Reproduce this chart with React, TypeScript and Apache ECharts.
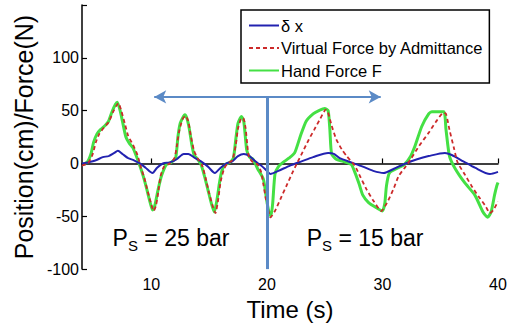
import React, { useEffect, useRef } from "react";
import * as echarts from "echarts";

// Time (s) / value pairs
const deltaX: [number, number][] = [
  [4, 0], [4.5, 1], [5.2, 3], [5.8, 6], [6.3, 7], [6.8, 10], [7.1, 12], [7.5, 9], [8.0, 5], [8.5, 3],
  [9.0, 0], [9.5, -4], [10.1, -9], [10.5, -4], [11.0, 0], [11.6, 1], [12.2, 4], [12.8, 9], [13.2, 9],
  [13.8, 5], [14.3, 2], [14.9, -3], [15.5, -9], [16.0, -4], [16.5, 0], [17.0, 2], [17.5, 7], [18.0, 9],
  [18.5, 7], [19.0, 2], [19.5, -2], [20.0, -7], [20.3, -10], [21, -7], [22, -2], [23, 2], [24, 6],
  [25.3, 10], [25.8, 9], [26.3, 5], [27.3, 1], [28.3, -3], [29.2, -7], [30.1, -9], [31, -5], [32, 0],
  [33, 4], [34, 7], [35.4, 10], [36, 8], [37, 2], [38, -4], [39.3, -10], [40, -8],
];

const virtualForce: [number, number][] = [
  [4, -2], [4.5, 0], [4.9, 8], [5.2, 20], [5.5, 28], [5.9, 34], [6.3, 39], [6.7, 49], [7.0, 55], [7.15, 57],
  [7.4, 50], [7.7, 38], [8.0, 26], [8.4, 18], [8.8, 8], [9.1, -4], [9.4, -14], [9.7, -27], [10.0, -39],
  [10.2, -45], [10.4, -40], [10.6, -27], [10.8, -12], [11.1, -3], [11.6, 0], [12.0, 5], [12.2, 16],
  [12.4, 30], [12.7, 42], [12.95, 45], [13.2, 40], [13.4, 27], [13.7, 12], [14.0, 5], [14.4, -2],
  [14.7, -14], [15.0, -28], [15.3, -40], [15.55, -47], [15.8, -33], [16.0, -17], [16.3, -5], [16.6, 0],
  [17.0, 3], [17.3, 17], [17.5, 33], [17.75, 42], [17.95, 43], [18.15, 34], [18.3, 18], [18.45, 6],
  [18.8, 1], [19.2, -1], [19.5, -8], [19.7, -20], [19.9, -33], [20.1, -43], [20.3, -51],
  [20.7, -45], [21.2, -33], [21.7, -21], [22.2, -9], [22.6, 0], [23.1, 11], [23.6, 22], [24.1, 32],
  [24.6, 42], [25.1, 51], [25.3, 48], [25.6, 36], [26.0, 23], [26.5, 13], [26.9, 7], [27.6, -2],
  [28.1, -13], [28.6, -24], [29.2, -35], [29.9, -45], [30.5, -35], [31.0, -23], [31.4, -12], [32.0, -3],
  [32.5, 5], [33.2, 17], [34.0, 29], [34.6, 39], [35.3, 48], [35.5, 47], [35.8, 32], [36.2, 14],
  [36.5, 1], [37.1, -10], [37.7, -21], [38.3, -31], [38.9, -40], [39.3, -47], [39.6, -44], [40, -36],
];

const handForce: [number, number][] = [
  [4.1, -1], [4.5, 2], [4.8, 10], [5.0, 20], [5.3, 28], [5.6, 32], [6.0, 36], [6.3, 40], [6.6, 49],
  [6.9, 56], [7.05, 58], [7.3, 50], [7.5, 40], [7.8, 25], [8.1, 19], [8.4, 15], [8.7, 7], [9.0, -2],
  [9.3, -12], [9.6, -24], [9.9, -37], [10.1, -44], [10.3, -40], [10.6, -24], [10.9, -11], [11.3, -1],
  [11.7, 1], [12.1, 5], [12.3, 25], [12.5, 38], [12.9, 46], [13.1, 42], [13.3, 32], [13.5, 18],
  [13.7, 8], [14.0, 4], [14.3, -1], [14.6, -12], [14.9, -25], [15.2, -38], [15.45, -46], [15.7, -33],
  [15.9, -18], [16.1, -7], [16.4, -1], [16.8, 1], [17.1, 5], [17.3, 22], [17.5, 38], [17.8, 44.5],
  [18.0, 40], [18.25, 13], [18.5, 6], [18.8, 4], [19.2, -5], [19.7, -15], [20.0, -36], [20.2, -47],
  [20.35, -50], [20.5, -38], [20.7, -10], [21.0, -3], [21.4, 1], [21.9, 5], [22.4, 10], [22.9, 26],
  [23.4, 40], [24.0, 47], [24.5, 50], [25.0, 52], [25.3, 50], [25.45, 32], [25.6, 9], [26.0, 4],
  [26.6, 2], [27.3, -1], [27.6, -8], [28.0, -20], [28.3, -30], [28.8, -37], [29.5, -42], [30.0, -45],
  [30.2, -38], [30.35, -21], [30.6, -9], [31.2, -5], [31.9, -1], [32.4, 6], [32.8, 16], [33.4, 35],
  [34.0, 47], [34.3, 49], [35.3, 49], [35.5, 32], [35.8, 7], [36.3, -5], [37.1, -18], [38.0, -30],
  [38.7, -46], [39.1, -51], [39.4, -46], [39.7, -30], [39.9, -21], [40, -18],
];

const seriesNames = ["\u03b4 x", "Virtual Force by Admittance", "Hand Force F"];
const xTicks = [10, 20, 30, 40];
const arrowStart: [number, number] = [10.25, 63];
const arrowEnd: [number, number] = [29.85, 63];
const dividerTop: [number, number] = [20, 63];
const dividerBottom: [number, number] = [20, -100];
const leftLabelPos: [number, number] = [11.7, -71];
const rightLabelPos: [number, number] = [28.5, -71];
const leftPressure = "25 bar";
const rightPressure = "15 bar";

const FONT = "Liberation Sans, Arial, sans-serif";

export default function App() {
  const ref = useRef<HTMLDivElement>(null);
  useEffect(() => {
    if (!ref.current) return;
    const chart = echarts.init(ref.current, null, { renderer: "svg" });
    const rich = {
      p: { fontSize: 23, fontFamily: FONT, color: "#000", lineHeight: 30 },
      s: { fontSize: 15, fontFamily: FONT, color: "#000", lineHeight: 30, padding: [14, 0, 0, 0] },
    };
    chart.setOption({
      animation: false,
      backgroundColor: "#fff",
      textStyle: { fontFamily: FONT },
      grid: { left: 82, right: 13, top: 5, bottom: 55, containLabel: false },
      legend: {
        data: seriesNames,
        orient: "vertical",
        left: 241,
        top: 10,
        padding: [7, 6, 4, 7],
        itemWidth: 30,
        itemHeight: 14,
        itemGap: 5.5,
        backgroundColor: "#fff",
        borderColor: "#000",
        borderWidth: 1.5,
        borderRadius: 0,
        itemStyle: { opacity: 0, borderWidth: 0 },
        textStyle: { fontSize: 16.5, color: "#000", fontFamily: FONT, lineHeight: 16, padding: [0, 0, 0, -3] },
      },
      xAxis: {
        type: "value",
        min: 4,
        max: 40,
        name: "Time (s)",
        nameLocation: "middle",
        nameGap: 21,
        nameTextStyle: { fontSize: 24, color: "#000", fontFamily: FONT },
        axisLine: { lineStyle: { color: "#000", width: 1.5 } },
        axisTick: { inside: true, length: 5, customValues: xTicks, lineStyle: { color: "#000", width: 1.2 } },
        axisLabel: { customValues: xTicks, fontSize: 16, color: "#000", margin: 7, fontFamily: FONT },
        splitLine: { show: false },
      },
      yAxis: {
        type: "value",
        min: -100,
        max: 150,
        interval: 50,
        name: "Position(cm)/Force(N)",
        nameLocation: "middle",
        nameGap: 44,
        nameTextStyle: { fontSize: 25, color: "#000", fontFamily: FONT },
        axisLine: { show: true, lineStyle: { color: "#000", width: 1.5 } },
        axisTick: { show: true, inside: true, length: 5, lineStyle: { color: "#000", width: 1.2 } },
        axisLabel: {
          fontSize: 16,
          color: "#000",
          margin: 3,
          fontFamily: FONT,
          formatter: (v: number) => (v === 150 ? "" : String(v)),
        },
        splitLine: { show: false },
      },
      series: [
        {
          name: seriesNames[0],
          type: "line",
          data: deltaX,
          symbol: "none",
          smooth: 0.25,
          lineStyle: { color: "#2222b0", width: 2 },
          itemStyle: { color: "#2222b0" },
          z: 3,
        },
        {
          name: seriesNames[2],
          type: "line",
          data: handForce,
          symbol: "none",
          smooth: 0.2,
          lineStyle: { color: "#44e044", width: 3 },
          itemStyle: { color: "#44e044" },
          z: 2,
        },
        {
          name: seriesNames[1],
          type: "line",
          data: virtualForce,
          symbol: "none",
          smooth: 0.2,
          lineStyle: { color: "#cc2a2a", width: 1.8, type: [4, 3] },
          itemStyle: { color: "#cc2a2a" },
          z: 4,
        },
        {
          name: "annotations",
          type: "line",
          data: [],
          symbol: "none",
          silent: true,
          markLine: {
            silent: true,
            animation: false,
            label: { show: false },
            data: [
              [
                { coord: arrowStart, symbol: "arrow", symbolSize: [10, 12], lineStyle: { color: "#5b8ac6", width: 2, type: "solid" } },
                { coord: arrowEnd, symbol: "arrow", symbolSize: [10, 12] },
              ],
              [
                { coord: dividerTop, symbol: "none", lineStyle: { color: "#5b8ac6", width: 3, type: "solid" } },
                { coord: dividerBottom, symbol: "none" },
              ],
            ],
          },
          markPoint: {
            silent: true,
            animation: false,
            symbol: "circle",
            symbolSize: 0,
            itemStyle: { color: "transparent" },
            label: {
              show: true,
              position: "inside",
              color: "#000",
              rich,
            },
            data: [
              { coord: leftLabelPos, label: { formatter: `{p|P}{s|S}{p| = ${leftPressure}}` } },
              { coord: rightLabelPos, label: { formatter: `{p|P}{s|S}{p| = ${rightPressure}}` } },
            ],
          },
          z: 5,
        },
      ],
    });
    return () => chart.dispose();
  }, []);
  return <div ref={ref} style={{ position: "absolute", left: 0, top: 0, width: 511, height: 326 }} />;
}
